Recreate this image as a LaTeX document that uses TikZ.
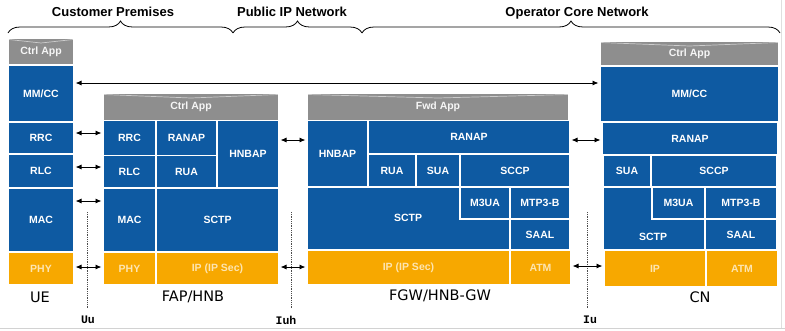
\documentclass[tikz,border=0pt]{standalone}
\usepackage{fontspec}
\setmainfont{Liberation Sans}
\newfontfamily\entityfont{DejaVu Sans}
\newfontfamily\ifacefont{Liberation Mono}
\usetikzlibrary{arrows.meta,decorations.pathreplacing}

\definecolor{stackblue}{RGB}{14,90,162}
\definecolor{stackgray}{RGB}{142,142,142}
\definecolor{stackorange}{RGB}{247,168,0}

\tikzset{
  stacklayer/.style={draw=white, line width=1.6pt, inner sep=0pt, outer sep=0pt,
    font=\bfseries\fontsize{10.5}{12}\selectfont, text=white},
  bluelayer/.style={stacklayer, fill=stackblue},
  orangelayer/.style={stacklayer, fill=stackorange, text=white!70!stackorange},
  applayer/.style={stacklayer, fill=stackgray, text=white!92!stackgray},
  layertext/.style={font=\bfseries\fontsize{10.5}{12}\selectfont, text=white, inner sep=0pt},
  appsheen/.style={draw=white, line width=0.7pt, opacity=0.55},
  link/.style={{Latex[length=6pt,width=5pt]}-{Latex[length=6pt,width=5pt]},
    line width=0.9pt, shorten <=1.5pt, shorten >=1.5pt},
  iface/.style={densely dotted, line width=0.8pt, gray!60!black},
  ifacelabel/.style={font=\ifacefont\bfseries\fontsize{11.5}{13}\selectfont},
  entitylabel/.style={font=\entityfont\fontsize{14.5}{16}\selectfont},
  regionlabel/.style={font=\bfseries\fontsize{13}{15}\selectfont},
  regionbrace/.style={decorate, decoration={brace, amplitude=12pt}, line width=0.8pt},
}

% protocol layer box: name, x1, y1, x2, y2, style, text
\newcommand\stackbox[7]{%
  \node[#6, anchor=north west, minimum width={(#4-#2)*1pt},
        minimum height={(#5-#3)*1pt}] (#1) at (#2,#3) {#7};}
% light V-shaped sheen across the top of an application box
\newcommand\sheen[1]{%
  \draw[appsheen] ([shift={(1,1.5)}]#1.north west) -- ([shift={(0,5)}]#1.north)
    -- ([shift={(-1,1.5)}]#1.north east);}

\begin{document}
\begin{tikzpicture}[x=1pt,y=-1pt]
\useasboundingbox (0,0) rectangle (785,330);

% frame edges
\draw[gray!35, line width=1pt] (0,328.5) -- (785,328.5);
\draw[gray!25, line width=1pt] (781.5,0) -- (781.5,328);

% network regions
\node[regionlabel] (cp)  at (113,12) {Customer Premises};
\node[regionlabel] (pip) at (292,12) {Public IP Network};
\node[regionlabel] (ocn) at (577,13) {Operator Core Network};
\coordinate (b0) at (8,33);
\coordinate (b1) at (233,33);
\coordinate (b2) at (362,33);
\coordinate (b3) at (780,33);
\draw[regionbrace] (b0) -- (b1);
\draw[regionbrace] (b1) -- (b2);
\draw[regionbrace] (b2) -- (b3);

% UE
\stackbox{ueApp}{8}{38}{74}{65}{applayer}{Ctrl App}
\sheen{ueApp}
\stackbox{ueMM}{8}{65}{74}{122}{bluelayer}{MM/CC}
\stackbox{ueRRC}{8}{122}{74}{154}{bluelayer}{RRC}
\stackbox{ueRLC}{8}{154}{74}{188}{bluelayer}{RLC}
\stackbox{ueMAC}{8}{188}{74}{252}{bluelayer}{MAC}
\stackbox{uePHY}{8}{252.5}{74}{285}{orangelayer}{PHY}

% FAP/HNB
\stackbox{fapApp}{103}{93}{279}{120.5}{applayer}{Ctrl App}
\sheen{fapApp}
\stackbox{fapRRC}{103}{120.5}{156}{155.5}{bluelayer}{RRC}
\stackbox{fapRLC}{103}{155.5}{156}{188}{bluelayer}{RLC}
\stackbox{fapRANAP}{156}{120.5}{217}{155.5}{bluelayer}{RANAP}
\stackbox{fapRUA}{156}{155.5}{217}{188}{bluelayer}{RUA}
\stackbox{fapHNBAP}{217}{120.5}{279}{188}{bluelayer}{HNBAP}
\stackbox{fapMAC}{103}{188}{156}{252}{bluelayer}{MAC}
\stackbox{fapSCTP}{156}{188}{279}{252}{bluelayer}{SCTP}
\stackbox{fapPHY}{103}{252}{156}{285}{orangelayer}{PHY}
\stackbox{fapIP}{156}{252}{279}{285}{orangelayer}{IP (IP Sec)}

% FGW/HNB-GW
\stackbox{fgwApp}{307}{93}{569}{120.5}{applayer}{Fwd App}
\sheen{fgwApp}
\stackbox{fgwHNBAP}{307}{120.5}{368}{187}{bluelayer}{HNBAP}
\stackbox{fgwRANAP}{368}{120.5}{570}{154}{bluelayer}{RANAP}
\stackbox{fgwRUA}{368}{154}{416}{187}{bluelayer}{RUA}
\stackbox{fgwSUA}{416}{154}{460}{187}{bluelayer}{SUA}
\stackbox{fgwSCCP}{460}{154}{570}{187}{bluelayer}{SCCP}
\path[fill=stackblue, draw=white, line width=1.6pt]
  (307,187) -- (460,187) -- (460,219) -- (510,219) -- (510,250) -- (307,250) -- cycle;
\node[layertext] (fgwSCTP) at (408,218) {SCTP};
\stackbox{fgwM3UA}{460}{187}{510}{219}{bluelayer}{M3UA}
\stackbox{fgwMTP}{510}{187}{570}{219}{bluelayer}{MTP3-B}
\stackbox{fgwSAAL}{510}{219}{570}{250}{bluelayer}{SAAL}
\stackbox{fgwIP}{307}{250}{510}{285}{orangelayer}{IP (IP Sec)}
\stackbox{fgwATM}{510}{250}{571}{285}{orangelayer}{ATM}

% CN
\stackbox{cnApp}{600}{41}{779}{66}{applayer}{Ctrl App}
\sheen{cnApp}
\stackbox{cnMM}{600}{66}{779}{122}{bluelayer}{MM/CC}
\stackbox{cnRANAP}{602}{122}{778}{155}{bluelayer}{RANAP}
\stackbox{cnSUA}{603}{155}{651}{187}{bluelayer}{SUA}
\stackbox{cnSCCP}{651}{155}{777}{187}{bluelayer}{SCCP}
\path[fill=stackblue, draw=white, line width=1.6pt]
  (603,187) -- (652,187) -- (652,219) -- (705,219) -- (705,250) -- (603,250) -- cycle;
\node[layertext] (cnSCTP) at (653,237) {SCTP};
\stackbox{cnM3UA}{652}{187}{705}{219}{bluelayer}{M3UA}
\stackbox{cnMTP}{705}{187}{777}{219}{bluelayer}{MTP3-B}
\stackbox{cnSAAL}{705}{219}{777}{250}{bluelayer}{SAAL}
\stackbox{cnIP}{604}{250}{706}{287}{orangelayer}{IP}
\stackbox{cnATM}{706}{250}{778}{287}{orangelayer}{ATM}

% entity names
\node[entitylabel] (ueName)  at (40,297)  {UE};
\node[entitylabel] (fapName) at (193,297) {FAP/HNB};
\node[entitylabel] (fgwName) at (440,296) {FGW/HNB-GW};
\node[entitylabel] (cnName)  at (700,297) {CN};

% interfaces
\coordinate (uuTop) at (87,212);   \coordinate (uuBot) at (87,308);
\coordinate (iuhTop) at (291,212); \coordinate (iuhBot) at (291,308);
\coordinate (iuTop) at (587,212);  \coordinate (iuBot) at (587,308);
\draw[iface] (uuTop) -- (uuBot);
\draw[iface] (iuhTop) -- (iuhBot);
\draw[iface] (iuTop) -- (iuBot);
\node[ifacelabel] (uu)  at (88,320)  {Uu};
\node[ifacelabel] (iuh) at (286,320) {Iuh};
\node[ifacelabel] (iu)  at (590,320) {Iu};

% peer-to-peer relations
\draw[link] (ueMM.east |- 0,83) -- (cnMM.west |- 0,83);
\draw[link] (ueRRC.east |- 0,133) -- (fapRRC.west |- 0,133);
\draw[link] (ueRLC.east |- 0,167) -- (fapRLC.west |- 0,167);
\draw[link] (ueMAC.east |- 0,201) -- (fapMAC.west |- 0,201);
\draw[link] (uePHY.east |- 0,267) -- (fapPHY.west |- 0,267);
\draw[link] (fapHNBAP.east |- 0,140) -- (fgwHNBAP.west |- 0,140);
\draw[link] (fapIP.east |- 0,267) -- (fgwIP.west |- 0,267);
\draw[link] (fgwRANAP.east |- 0,140) -- (cnRANAP.west |- 0,140);
\draw[link] (fgwATM.east |- 0,266) -- (cnIP.west |- 0,266);
\end{tikzpicture}
\end{document}
